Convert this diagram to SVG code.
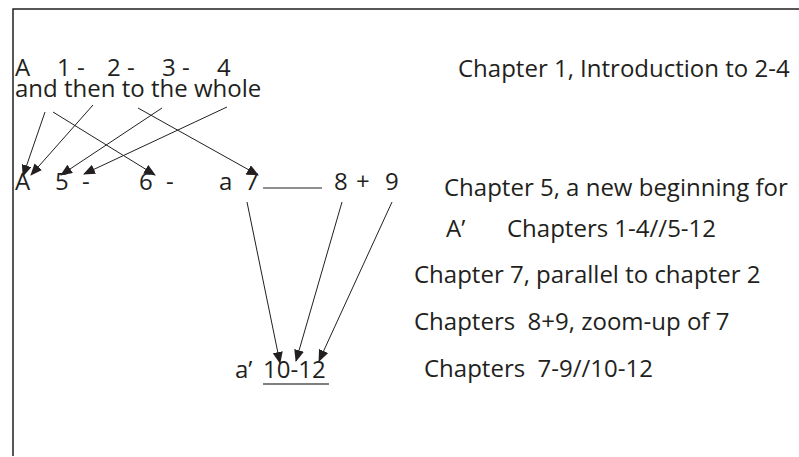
<svg xmlns="http://www.w3.org/2000/svg" width="799" height="457" viewBox="0 0 799 457">
<defs>
<style>
text{font-family:"Open Sans","Noto Sans","Liberation Sans",sans-serif;font-size:24px;fill:#231f20;white-space:pre}
.c{stroke:#231f20;stroke-width:1;fill:none}
</style>
<marker id="ah" markerWidth="12" markerHeight="10" refX="11" refY="5" orient="auto" markerUnits="userSpaceOnUse">
<path d="M0,0 L12,5 L0,10 Z" fill="#231f20"/>
</marker>
</defs>
<rect width="799" height="457" fill="#fff"/>
<path d="M13,456 L13,9 L799,9" stroke="#231f20" stroke-width="1.5" fill="none"/>
<g id="row1">
<text x="15" y="76">A</text>
<text x="57" y="76">1 -</text>
<text x="107" y="76">2 -</text>
<text x="162" y="76">3 -</text>
<text x="217" y="76">4</text>
<text x="15" y="97">and then to the whole</text>
</g>
<g id="row2">
<text x="15" y="190">A</text>
<text x="55" y="190">5</text>
<text x="82" y="190">-</text>
<text x="139" y="190">6</text>
<text x="166" y="190">-</text>
<text x="219" y="190">a</text>
<text x="245" y="190">7</text>
<text x="334" y="190">8</text>
<text x="356" y="190">+</text>
<text x="385" y="190">9</text>
</g>
<g id="bottom">
<text x="235" y="378">a’</text>
<text x="263" y="378">10-12</text>
<line x1="263" y1="384" x2="329" y2="384" stroke="#555" stroke-width="1.5"/>
</g>
<g id="notes">
<text x="458" y="77">Chapter 1, Introduction to 2-4</text>
<text x="444" y="196">Chapter 5, a new beginning for</text>
<text x="446" y="237">A’</text>
<text x="507" y="237">Chapters 1-4//5-12</text>
<text x="414" y="283">Chapter 7, parallel to chapter 2</text>
<text x="414" y="330" xml:space="preserve">Chapters  8+9, zoom-up of 7</text>
<text x="424" y="377" xml:space="preserve">Chapters  7-9//10-12</text>
</g>
<g id="connectors">
<line class="c" x1="45" y1="112" x2="23" y2="176" marker-end="url(#ah)"/>
<line class="c" x1="93" y1="105" x2="31" y2="175" marker-end="url(#ah)"/>
<line class="c" x1="53" y1="112" x2="155" y2="175" marker-end="url(#ah)"/>
<line class="c" x1="162" y1="108" x2="61" y2="175" marker-end="url(#ah)"/>
<line class="c" x1="138" y1="108" x2="258" y2="175" marker-end="url(#ah)"/>
<line class="c" x1="227" y1="107" x2="84" y2="174" marker-end="url(#ah)"/>
<line class="c" x1="263" y1="188" x2="322" y2="188"/>
<line class="c" x1="247" y1="202" x2="280" y2="363" marker-end="url(#ah)"/>
<line class="c" x1="342" y1="202" x2="296" y2="361" marker-end="url(#ah)"/>
<line class="c" x1="392" y1="202" x2="319" y2="361" marker-end="url(#ah)"/>
</g>
</svg>
